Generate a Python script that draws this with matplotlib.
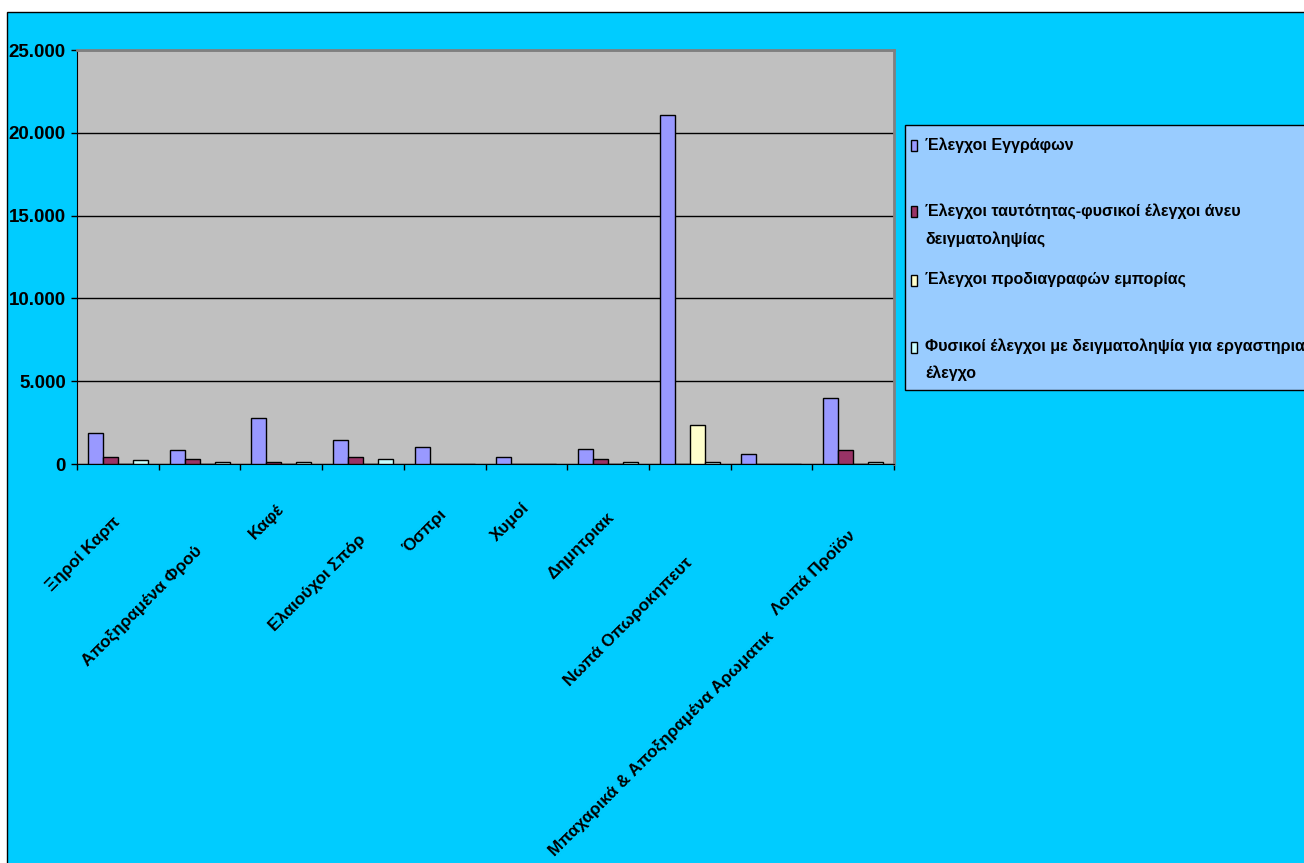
import numpy as np
import matplotlib.pyplot as plt
from matplotlib.patches import Rectangle
from matplotlib.ticker import FuncFormatter

plt.rcParams['font.family'] = ['Liberation Sans Narrow', 'Liberation Sans', 'DejaVu Sans']
plt.rcParams['font.weight'] = 'bold'

# labels as they are shown (clipped in the original)
labels = ["Ξηροί Καρπ", "Αποξηραμένα Φρού", "Καφέ", "Ελαιούχοι Σπόρ", "Όσπρι",
          "Χυμοί", "Δημητριακ", "Νωπά Οπωροκηπευτ",
          "Μπαχαρικά & Αποξηραμένα Αρωματικ", "Λοιπά Προϊόν"]

series_names = ["Έλεγχοι Εγγράφων",
                "Έλεγχοι ταυτότητας-φυσικοί έλεγχοι άνευ\nδειγματοληψίας",
                "Έλεγχοι προδιαγραφών εμπορίας",
                "Φυσικοί έλεγχοι με δειγματοληψία για εργαστηριακό\nέλεγχο"]

docs = [1850, 830, 2780, 1430, 1010, 420, 920, 21100, 620, 3985]
identity = [400, 300, 100, 400, 0, 0, 300, 0, 0, 830]
specs = [0, 0, 0, 0, 0, 0, 0, 2355, 0, 0]
lab = [220, 100, 100, 300, 0, 0, 100, 100, 0, 100]

colors = ["#9999FF", "#993366", "#FFFFCC", "#CCFFFF"]

W, H = 1304, 863
fig = plt.figure(figsize=(W / 100, H / 100), dpi=100)
fig.patch.set_facecolor("white")

def px(x, y):
    return x / W, 1 - y / H

# chart area
fig.patches.append(Rectangle(px(7, 870), 1.2, (870 - 12) / H, transform=fig.transFigure,
                             facecolor="#00CCFF", edgecolor="black", lw=1, zorder=-2))

ax = fig.add_axes([77 / W, 1 - 464 / H, (894 - 77) / W, (464 - 50) / H])
ax.set_facecolor("#C0C0C0")

x = np.arange(len(labels))
bw = 0.1836
for k, vals in enumerate([docs, identity, specs, lab]):
    ax.bar(x + (k - 1.5) * bw, vals, width=bw, color=colors[k],
           edgecolor="black", linewidth=1, zorder=3)

ax.set_xlim(-0.5, len(labels) - 0.5)
ax.set_ylim(0, 25000)
ax.set_yticks(np.arange(0, 25001, 5000))
ax.yaxis.set_major_formatter(FuncFormatter(lambda v, p: f"{v:,.0f}".replace(",", ".")))
ax.set_xticks(np.arange(-0.5, len(labels)))
ax.set_xticklabels([])
ax.tick_params(axis="both", direction="out", length=4, width=1, color="black")
ax.tick_params(axis="y", labelsize=13.5, pad=4)
for t in ax.get_yticklabels():
    t.set_fontweight("bold")
ax.grid(axis="y", color="black", linewidth=1)
ax.set_axisbelow(True)
ax.spines["left"].set_color("black")
ax.spines["bottom"].set_color("black")
for s in ["top", "right"]:
    ax.spines[s].set_color("#808080")
    ax.spines[s].set_linewidth(2)

# rotated category labels, end of visible text (pixels from tick / axis bottom)
label_offsets = [(0, 56), (0, 84), (0, 43), (0, 73), (0, 48),
                 (1, 41), (4, 51), (0, 96), (0, 170), (0, 69)]
for i, (name, (dx, dy)) in enumerate(zip(labels, label_offsets)):
    ax.annotate(name, xy=(i, 0), xycoords=("data", "axes fraction"),
                xytext=(dx, -dy), textcoords="offset pixels",
                rotation=45, rotation_mode="anchor", ha="right", va="center",
                fontsize=12.3, fontweight="bold", annotation_clip=False)

# legend box
fig.patches.append(Rectangle(px(905, 390), 0.5, (390 - 125) / H, transform=fig.transFigure,
                             facecolor="#99CCFF", edgecolor="black", lw=1, zorder=1))
first_line = [146, 212, 280, 347]
for k, name in enumerate(series_names):
    y0 = first_line[k]
    fig.patches.append(Rectangle(px(911, y0 + 5.5), 6 / W, 11 / H, transform=fig.transFigure,
                                 facecolor=colors[k], edgecolor="black", lw=1, zorder=2))
    fig.text(*px(925, y0 - 9), name, ha="left", va="top", fontsize=11.5,
             fontweight="bold", linespacing=1.95, zorder=3)

fig.savefig("out.png", dpi=100, facecolor=fig.get_facecolor())
